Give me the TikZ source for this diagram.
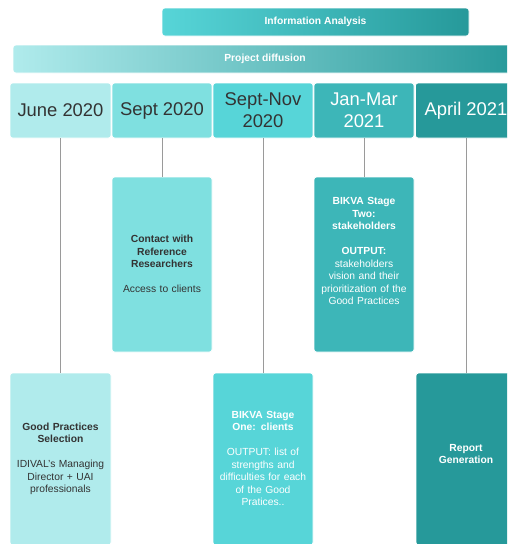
\documentclass[tikz,border=0pt]{standalone}
\usepackage{fontspec}
\setmainfont{Liberation Sans}
\usepackage{tikz}

\definecolor{tealA}{HTML}{B0EBEC}
\definecolor{tealB}{HTML}{7FE0E0}
\definecolor{tealC}{HTML}{57D5D8}
\definecolor{tealD}{HTML}{3DB6B8}
\definecolor{tealE}{HTML}{26999A}
\definecolor{darktext}{HTML}{333333}
\definecolor{linegray}{HTML}{9A9A9A}

\begin{document}
\begin{tikzpicture}[x=1pt,y=-1pt,
    datebox/.style={draw=white,line width=0.8pt,rounded corners=2.5pt,minimum height=55pt,
      align=center,font=\fontsize{18.4}{22}\selectfont},
    taskbox/.style={draw=white,line width=0.8pt,rounded corners=2.5pt,minimum width=100pt},
    tasktext/.style={align=center,text width=92pt,font=\fontsize{10.3}{12.5}\selectfont},
    bar/.style={draw=white,line width=0.6pt,rounded corners=3pt,minimum height=28pt,text=white,font=\fontsize{10.3}{12.5}\selectfont\bfseries},
    link/.style={draw=linegray,line width=0.9pt}]
	  \clip (0,0) rectangle (507,544);
	  % phase bars
	  \node (infoan) [bar,left color=tealC,right color=tealE,minimum width=307pt] at (315.5,22) {Information Analysis};
	  \node (projdiff) [bar,left color=tealA,middle color=tealC,right color=tealE,minimum width=504pt] at (265,59) {Project diffusion};
	  % timeline
	  \node (june) [datebox,fill=tealA,text=darktext,minimum width=101pt] at (60.5,110.5) {June 2020};
	  \node (sept) [datebox,fill=tealB,text=darktext,minimum width=100pt] at (162,110.5) {Sept 2020};
	  \node (septnov) [datebox,fill=tealC,text=darktext,minimum width=100pt] at (263,110.5) {Sept-Nov\\2020};
	  \node (janmar) [datebox,fill=tealD,text=white,minimum width=100pt] at (364,110.5) {Jan-Mar\\2021};
	  \node (april) [datebox,fill=tealE,text=white,minimum width=101pt] at (466,110.5) {April 2021};
	  % tasks
	  \node (contact) [taskbox,fill=tealB,minimum height=175pt] at (162,264.5) {};
	  \node (stagetwo) [taskbox,fill=tealD,minimum height=175pt] at (364,264.5) {};
	  \node (goodpr) [taskbox,fill=tealA,minimum width=101pt,minimum height=172pt] at (60.5,459) {};
	  \node (stageone) [taskbox,fill=tealC,minimum height=172pt] at (263,459) {};
	  \node (report) [taskbox,fill=tealE,minimum height=172pt] at (466,459) {};
	  \node (contacttxt) [tasktext,text=darktext] at (162,264) {\textbf{Contact with\\Reference\\Researchers}\\[12.5pt]Access to clients};
	  \node (stagetwotxt) [tasktext,text=white] at (364,251) {\textbf{BIKVA Stage\\Two:\\stakeholders}\\[12.5pt]\textbf{OUTPUT:}\\stakeholders\\vision and their\\prioritization of the\\Good Practices};
	  \node (goodprtxt) [tasktext,text=darktext] at (60.5,459) {\textbf{Good Practices\\Selection}\\[12.5pt]IDIVAL's Managing\\Director + UAI\\professionals};
	  \node (stageonetxt) [tasktext,text=white] at (263,458.5) {\textbf{BIKVA Stage\\One: clients}\\[12.5pt]OUTPUT: list of\\strengths and\\difficulties for each\\of the Good\\Pratices..};
	  \node (reporttxt) [tasktext,text=white] at (466,454) {\textbf{Report\\Generation}};
	  % connectors
	  \path[link]
	    (june) -- (goodpr)
	    (sept) -- (contact)
	    (septnov) -- (stageone)
	    (janmar) -- (stagetwo)
	    (april) -- (report);
	\end{tikzpicture}
\end{document}
